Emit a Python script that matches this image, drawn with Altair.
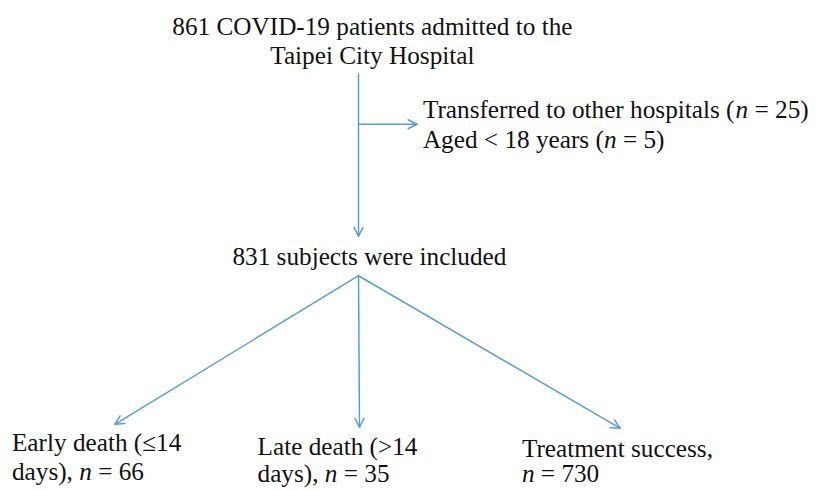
import math
import altair as alt
import pandas as pd

# ---------------- content ----------------
title_lines = ["861 COVID-19 patients admitted to the", "Taipei City Hospital"]
excluded_lines = [
    [("Transferred to other hospitals (", False), ("n", True), (" = 25)", False)],
    [("Aged < 18 years (", False), ("n", True), (" = 5)", False)],
]
included_label = "831 subjects were included"
outcome_lines = [
    [[("Early death (\u226414", False)], [("days), ", False), ("n", True), (" = 66", False)]],
    [[("Late death (>14", False)], [("days), ", False), ("n", True), (" = 35", False)]],
    [[("Treatment success,", False)], [("n", True), (" = 730", False)]],
]

# ---------------- layout (pixel coordinates of the page) ----------------
FONT = "Liberation Serif"
FS = 25.5
BLUE = "#5B9BD5"
title_center_x = 376
title_baselines = [33, 62]
excl_x = 427
excl_baselines = [117, 147]
incl_center_x = 373
incl_baseline = 265
outcome_x = [12, 260, 527]
outcome_baselines = [[453, 482], [457, 484], [459, 484]]

main_top = (362, 72)
main_tip = (362, 236)
side_y = 123
side_tip_x = 421
fan_origin = (362, 276)
fan_tips = [(116, 426), (363, 429), (626, 430)]
HEAD_LEN = 10
HEAD_ANG = math.radians(27)

# Times / Liberation Serif advance widths (1/1000 em)
W = {' ': 250, 'a': 444, 'b': 500, 'c': 444, 'd': 500, 'e': 444, 'f': 333, 'g': 500,
     'h': 500, 'i': 278, 'j': 278, 'k': 500, 'l': 278, 'm': 778, 'n': 500, 'o': 500,
     'p': 500, 'q': 500, 'r': 333, 's': 389, 't': 278, 'u': 500, 'v': 500, 'w': 722,
     'x': 500, 'y': 500, 'z': 444, '(': 333, ')': 333, '=': 564, '<': 564, '>': 564,
     '\u2264': 549, ',': 250, '.': 250, '-': 333, 'T': 611, 'A': 722, 'E': 611, 'L': 611}
for d in "0123456789":
    W[d] = 500


def width(s):
    return sum(W.get(c, 500) for c in s) * FS / 1000.0


normal_rows, italic_rows, center_rows = [], [], []


def add_line(x0, y, segs):
    x = x0
    for txt, ital in segs:
        lead = len(txt) - len(txt.lstrip(' '))
        xs = x + width(' ' * lead)
        row = {"x": xs, "y": y, "t": txt.strip(' ')}
        (italic_rows if ital else normal_rows).append(row)
        x += width(txt)


for t, yb in zip(title_lines, title_baselines):
    center_rows.append({"x": title_center_x, "y": yb, "t": t})
center_rows.append({"x": incl_center_x, "y": incl_baseline, "t": included_label})
for segs, yb in zip(excluded_lines, excl_baselines):
    add_line(excl_x, yb, segs)
for lines, x0, ybs in zip(outcome_lines, outcome_x, outcome_baselines):
    for segs, yb in zip(lines, ybs):
        add_line(x0, yb, segs)

# arrows
arrows = [(main_top, main_tip), ((main_top[0], side_y), (side_tip_x, side_y))]
arrows += [(fan_origin, tip) for tip in fan_tips]
seg_rows = []
for (x1, y1), (x2, y2) in arrows:
    seg_rows.append({"x": x1, "y": y1, "x2": x2, "y2": y2})
    ang = math.atan2(y2 - y1, x2 - x1)
    for s in (1, -1):
        a = ang + math.pi + s * HEAD_ANG
        seg_rows.append({"x": x2, "y": y2,
                         "x2": x2 + HEAD_LEN * math.cos(a), "y2": y2 + HEAD_LEN * math.sin(a)})

xs = alt.Scale(domain=[8, 822], nice=False, zero=False)
ys = alt.Scale(domain=[8, 490], nice=False, zero=False, reverse=True)

rules = alt.Chart(pd.DataFrame(seg_rows)).mark_rule(
    color=BLUE, strokeWidth=1.5, strokeCap="round").encode(
    x=alt.X("x:Q", scale=xs, axis=None), y=alt.Y("y:Q", scale=ys, axis=None),
    x2="x2:Q", y2="y2:Q")

def text_layer(rows, align, style):
    return alt.Chart(pd.DataFrame(rows)).mark_text(
        font=FONT, fontSize=FS, align=align, baseline="alphabetic",
        fontStyle=style, color="#111111").encode(
        x=alt.X("x:Q", scale=xs, axis=None), y=alt.Y("y:Q", scale=ys, axis=None),
        text="t:N")

chart = alt.layer(
    rules,
    text_layer(normal_rows, "left", "normal"),
    text_layer(italic_rows, "left", "italic"),
    text_layer(center_rows, "center", "normal"),
).properties(
    width=814, height=482, padding=0,
    autosize=alt.AutoSizeParams(type="none"),
).configure_view(stroke=None)

chart.save("out.html", embed_options={"renderer": "svg", "actions": False})
